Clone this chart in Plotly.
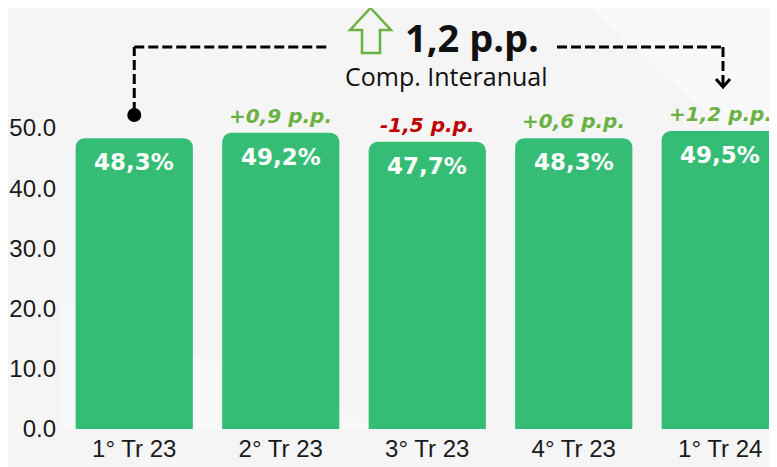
import plotly.graph_objects as go

categories = ["1° Tr 23", "2° Tr 23", "3° Tr 23", "4° Tr 23", "1° Tr 24"]
values = [48.3, 49.2, 47.7, 48.3, 49.5]
value_labels = ["48,3%", "49,2%", "47,7%", "48,3%", "49,5%"]
change_labels = ["", "+0,9 p.p.", "-1,5 p.p.", "+0,6 p.p.", "+1,2 p.p."]
change_colors = ["#6AB244", "#6AB244", "#C00000", "#6AB244", "#6AB244"]
yoy_label = "1,2 p.p."
yoy_sub = "Comp. Interanual"
tick_vals = [0, 10, 20, 30, 40, 50]
tick_text = ["0.0", "10.0", "20.0", "30.0", "40.0", "50.0"]

BAR = "#36BD75"
OFF = 8  # page body margin
W, H = 777 - OFF, 467 - OFF
ML, MR, MT, MB = 61 - OFF, 0, 0, 38
plot_h = H - MT - MB
px_per_unit = 6.02
ymax = plot_h / px_per_unit
cat_px = 146.5
xmax = -0.5 + (W - ML - MR) / cat_px


def py(p):  # page pixel y -> data y
    return (467 - MB - p) / px_per_unit


def px(p):  # page pixel x -> data x
    return (p - 61) / cat_px - 0.5


fig = go.Figure()
fig.add_trace(go.Bar(
    x=list(range(len(categories))), y=values,
    marker=dict(color=BAR, line=dict(width=0)),
    hoverinfo="skip",
))

ann = []
for i, (v, t) in enumerate(zip(values, value_labels)):
    ann.append(dict(x=i, y=v, text=t, showarrow=False, yshift=-24,
                    font=dict(family="DejaVu Sans", size=23, color="white", weight="bold")))
for i, (v, t, c) in enumerate(zip(values, change_labels, change_colors)):
    if t:
        ann.append(dict(x=i, y=v, text="<i>" + t + "</i>", showarrow=False, yanchor="bottom", yshift=3,
                        font=dict(family="DejaVu Sans", size=20, color=c, weight="bold")))

ann.append(dict(x=px(472), y=py(37), text=yoy_label, showarrow=False,
                font=dict(family="Open Sans", size=38, color="#111111", weight="bold")))
ann.append(dict(x=px(446), y=py(76), text=yoy_sub, showarrow=False,
                font=dict(family="Open Sans", size=25, color="#111111")))

shapes = []
shapes.append(dict(type="path", xref="paper", yref="paper", layer="below",
                   path="M 0.74,1 L 1,1 L 1,0.6 Z", fillcolor="rgba(255,255,255,0.45)", line=dict(width=0)))
shapes.append(dict(type="path", xref="paper", yref="paper", layer="below",
                   path="M 0,0 L 0,0.3 L 0.45,0 Z", fillcolor="rgba(255,255,255,0.3)", line=dict(width=0)))

dash = dict(color="black", width=3, dash="10px,4px")
yl = py(47)
shapes.append(dict(type="line", xref="x", yref="y", x0=0, x1=0, y0=py(112), y1=yl, line=dash))
shapes.append(dict(type="line", xref="x", yref="y", x0=0, x1=px(330), y0=yl, y1=yl, line=dash))
shapes.append(dict(type="circle", xref="x", yref="y", xsizemode="pixel", ysizemode="pixel",
                   xanchor=0, yanchor=py(115),
                   x0=-7, x1=7, y0=-7, y1=7, fillcolor="black", line=dict(width=0)))
shapes.append(dict(type="line", xref="x", yref="y", x0=px(557), x1=px(723), y0=yl, y1=yl, line=dash))
shapes.append(dict(type="line", xref="x", yref="y", x0=px(723), x1=px(723), y0=yl, y1=py(86), line=dash))
shapes.append(dict(type="path", xref="x", yref="y",
                   path=f"M {px(716)},{py(79)} L {px(723)},{py(87)} L {px(730)},{py(79)}",
                   line=dict(color="black", width=3)))
ax = [350, 370.5, 391, 380, 380, 362, 362, 350]
ay = [30, 8, 30, 30, 53, 53, 30, 30]
path = "M " + " L ".join(f"{px(a)},{py(b)}" for a, b in zip(ax, ay)) + " Z"
shapes.append(dict(type="path", xref="x", yref="y", path=path,
                   line=dict(color="#6AB244", width=2.5), fillcolor="rgba(0,0,0,0)"))

fig.update_layout(
    width=W, height=H,
    margin=dict(l=ML, r=MR, t=MT, b=MB, autoexpand=False),
    paper_bgcolor="#F5F5F5", plot_bgcolor="rgba(0,0,0,0)",
    bargap=0.2, barcornerradius=9,
    showlegend=False,
    annotations=ann, shapes=shapes,
    xaxis=dict(range=[-0.5, xmax], tickvals=list(range(len(categories))), ticktext=categories,
               showgrid=False, zeroline=False, showline=False, ticks="", automargin=False,
               ticklabelstandoff=3,
               tickfont=dict(family="Liberation Sans", size=24, color="#1A1A1A")),
    yaxis=dict(range=[0, ymax], tickvals=tick_vals, ticktext=tick_text,
               showgrid=False, zeroline=False, showline=False, ticks="", automargin=False,
               ticklabelstandoff=4,
               tickfont=dict(family="Liberation Sans", size=24, color="#1A1A1A")),
)
fig.write_html("out.html")
